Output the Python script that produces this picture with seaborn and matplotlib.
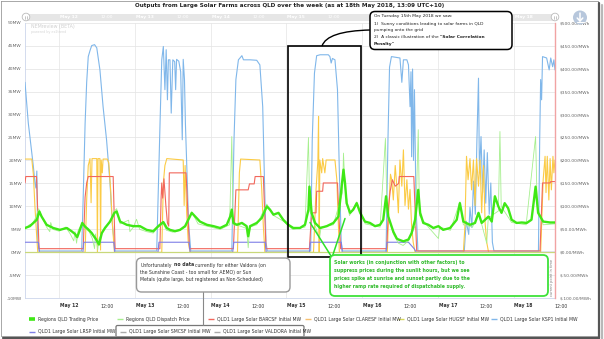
import matplotlib
matplotlib.use("Agg")
import numpy as np
import pandas as pd
import matplotlib.pyplot as plt
import matplotlib.dates as mdates
from matplotlib.patches import Rectangle, FancyBboxPatch, Circle, PathPatch
from matplotlib.path import Path
from matplotlib.transforms import blended_transform_factory, ScaledTranslation
import seaborn as sns

# ---------------------------------------------------------------------------
# Data: time stamps are hours after 2018-05-11 00:00 (UTC+10)
# ---------------------------------------------------------------------------
ksp1_hours = [
    13.15, 14.2, 14.7, 15.8, 16.3, 16.6, 16.9, 17.2, 17.7,
    31.1, 31.6, 32.2, 32.7, 33.2, 33.8, 34.3, 35.2, 35.9, 36.9, 37.9, 39.0, 40.1, 40.8, 41.7,
    54.9, 55.95, 56.5, 57.0, 57.5, 57.9, 58.3, 58.6, 59.1, 59.5, 60.0, 60.6, 60.9, 61.2, 61.9, 62.5, 63.0, 63.3, 63.7, 64.0, 64.5, 65.0, 65.7,
    78.7, 79.4, 80.0, 80.8, 81.3, 81.9, 82.4, 84.5, 86.6, 87.6, 88.5, 89.0, 89.55, 89.95,
    103.7, 104.2, 104.9, 105.6, 106.7, 109.3, 109.8, 110.2, 110.6, 111.4, 112.2, 112.8, 113.4, 113.8,
    127.6, 128.2, 128.7, 129.3, 132.0, 132.6, 133.1, 134.2, 134.7, 135.2, 135.5, 135.7, 136.0, 136.3, 136.6, 137.1, 137.7,
    152.4, 153.0, 153.8, 154.2, 154.8, 155.3, 155.9, 156.4, 156.9, 157.2, 157.7, 158.2, 158.7, 159.2, 159.7, 160.3, 160.8, 161.3, 161.8,
    175.9, 176.3, 176.6, 176.9, 177.2, 178.5, 179.3, 179.8, 180.4, 180.8, 181.15,
]
ksp1_mw = [
    37.0, 28.1, 25.2, 18.7, 15.1, 14.0, 17.7, 2.2, 0.3,
    0.3, 12.0, 28.0, 37.0, 42.6, 44.0, 45.0, 45.2, 44.5, 39.7, 31.7, 24.5, 15.1, 6.4, 0.3,
    0.3, 28.0, 41.9, 44.8, 35.4, 44.1, 33.2, 41.9, 41.9, 30.3, 41.9, 41.5, 35.4, 42.0, 41.6, 39.3, 24.5, 42.0, 37.6, 28.0, 17.3, 6.4, 0.3,
    0.3, 24.5, 37.6, 41.9, 42.3, 42.8, 41.9, 41.9, 41.8, 40.8, 31.7, 17.3, 2.2, 0.3,
    0.3, 24.5, 39.0, 42.8, 43.0, 43.0, 42.6, 41.2, 42.2, 41.9, 35.4, 17.3, 2.2, 0.3,
    0.3, 24.5, 40.3, 42.6, 42.3, 37.0, 41.9, 41.9, 40.8, 31.7, 39.3, 20.8, 39.9, 20.0, 35.4, 9.8, 0.3,
    0.3, 6.8, 3.9, 9.8, 5.4, 15.5, 8.3, 24.5, 37.9, 17.3, 25.2, 13.0, 22.3, 10.7, 21.7, 8.3, 15.1, 2.2, 0.3,
    0.3, 24.5, 37.6, 33.2, 42.6, 42.3, 39.7, 42.3, 40.4, 41.9, 39.7,
]

barcsf_hours = [
    13.15, 13.4, 16.8, 17.6,
    31.6, 32.2, 32.7, 33.2, 41.1, 41.7,
    55.9, 56.3, 56.5, 56.8, 57.2, 57.8, 58.3, 58.7, 58.9, 64.2, 65.3,
    79.2, 80.0, 83.9, 84.3, 85.8, 86.1, 88.7, 89.55,
    103.3, 104.0, 105.4, 105.6, 107.5, 107.7, 112.2, 112.6, 113.2,
    127.8, 128.4, 128.9, 129.6, 130.5, 131.6, 131.8, 136.4, 137.3,
    176.4, 177.2, 179.6, 179.8, 181.15,
]
barcsf_mw = [
    15.1, 16.5, 16.5, 0.8,
    0.8, 12.0, 15.1, 16.5, 16.5, 0.8,
    0.8, 12.0, 15.1, 11.8, 16.0, 10.2, 6.4, 5.7, 17.3, 17.3, 0.8,
    0.8, 13.6, 13.6, 14.9, 14.9, 16.5, 16.5, 0.8,
    0.8, 8.6, 8.6, 13.3, 13.3, 15.1, 15.1, 8.6, 0.8,
    0.8, 10.0, 13.3, 15.8, 14.4, 15.0, 16.5, 16.5, 0.3,
    0.3, 15.1, 15.1, 15.4, 15.4,
]

claresf_hours = [
    13.15, 15.3, 15.8, 16.3, 16.9, 17.2,
    32.2, 32.7, 33.2, 33.75, 34.1, 34.4, 35.9, 36.1, 36.3, 36.9, 37.1, 37.3, 37.65, 37.9, 39.2, 39.7, 40.3, 40.9, 41.5,
    56.5, 57.0, 57.5, 58.1, 63.3, 63.6, 63.9, 64.4, 64.9, 65.5,
    80.5, 81.1, 81.5, 87.6, 88.2, 88.7, 89.2,
    104.6, 105.4, 106.0, 106.2, 106.4, 106.6, 107.2, 107.5, 108.2, 108.6, 111.4, 112.0, 112.5, 112.8,
    128.0, 128.5, 129.0, 129.4, 129.9, 130.5, 131.0, 131.5, 132.0, 132.6, 133.1, 133.6, 134.2, 134.7, 135.2, 135.7, 136.2, 136.8,
    152.1, 152.6, 153.1, 153.6, 154.2, 154.7, 155.3, 155.8, 156.3, 156.9, 157.4, 157.9, 158.5, 159.0, 159.5, 160.1,
    176.6, 177.4, 178.0, 178.3, 178.7, 179.2, 179.6, 180.0, 180.5, 180.8, 181.15,
]
claresf_mw = [
    20.3, 20.3, 17.0, 10.0, 3.0, 0.0,
    0.0, 11.4, 18.9, 20.4, 10.8, 20.4, 20.4, 0.0, 20.4, 20.4, 0.5, 20.1, 17.3, 20.3, 20.3, 19.5, 13.6, 5.7, 0.0,
    0.0, 15.1, 18.9, 20.4, 20.1, 10.2, 18.9, 8.6, 2.2, 0.0,
    0.0, 17.3, 20.3, 20.1, 13.6, 5.7, 0.0,
    0.0, 13.6, 20.1, 29.6, 0.0, 20.1, 17.3, 20.4, 17.3, 20.1, 20.1, 15.8, 5.7, 0.0,
    0.0, 10.0, 17.0, 15.8, 11.4, 18.9, 14.4, 8.6, 20.1, 14.4, 22.3, 10.2, 15.8, 9.4, 13.7, 5.7, 2.2, 0.0,
    0.0, 5.7, 20.9, 15.8, 20.4, 13.6, 20.1, 10.2, 20.4, 14.4, 20.1, 8.6, 18.9, 6.4, 2.2, 0.0,
    0.0, 15.8, 20.9, 13.0, 20.9, 11.4, 20.4, 13.6, 20.9, 17.3, 20.1,
]

hugsf_hours = [13.15, 181.15]
hugsf_mw = [0.0, 0.0]

lrsp_hours = [13.15, 17.4, 17.7, 31.5, 31.8, 41.3, 41.6, 55.3, 55.6, 65.2, 65.5, 79.0, 79.3,
              89.3, 89.6, 103.3, 103.6, 113.4, 113.7, 127.6, 127.9, 134.7, 136.5, 137.2, 181.15]
lrsp_mw = [2.2, 2.2, 0.0, 0.0, 2.2, 2.2, 0.0, 0.0, 2.2, 2.2, 0.0, 0.0, 2.2,
           2.2, 0.0, 0.0, 2.2, 2.2, 0.0, 0.0, 2.2, 2.2, 0.8, 0.0, 0.0]

# SMCSF and VALDORA report nothing over the week
smcsf_hours, smcsf_mw = [], []
valdora_hours, valdora_mw = [], []

trading_hours = [
    13.15, 14.7, 15.8, 16.9, 17.7, 18.4, 20.0, 22.1, 24.2, 26.4, 27.9, 29.0, 29.7, 30.6, 31.3,
    32.2, 33.2, 34.3, 35.7, 36.6, 37.5, 38.5, 40.1, 41.5, 42.2, 43.3, 45.4, 47.5, 49.6, 51.7, 53.8, 55.4,
    57.0, 58.1, 59.1, 60.7, 62.3, 63.9, 64.9, 66.0, 67.1, 68.6, 70.8, 72.9, 75.0, 77.1, 78.2, 78.7, 79.2,
    80.3, 81.9, 83.4, 83.9, 84.5, 86.6, 88.2, 89.8, 90.8, 91.9, 93.5, 95.0, 96.6, 98.2, 100.3, 101.9, 103.0, 103.3, 104.0, 105.1,
    106.7, 108.8, 110.9, 112.5, 113.5, 114.1, 114.6, 115.1, 116.2, 117.2, 118.3, 119.4, 120.9, 122.5, 124.1, 125.7, 126.7, 127.6, 128.3, 129.9,
    131.0, 131.5, 133.1, 134.7, 135.7, 136.8, 137.8, 138.4, 139.4, 141.0, 142.6, 144.2, 145.7, 147.9,
    150.0, 151.0, 152.1, 154.2, 155.8, 156.9, 157.9, 159.0, 160.1, 161.1, 162.1, 163.2, 164.2, 165.2, 166.3, 167.4, 169.0, 170.6, 172.2, 173.7, 175.0, 175.8, 177.4, 179.6, 181.15,
]
trading_price = [
    53, 57, 64, 71, 89, 78, 60, 53, 49, 53, 46, 40, 33, 50, 64,
    56, 50, 42, 28, 17, 42, 53, 67, 86, 89, 67, 60, 57, 57, 49, 46, 57,
    66, 53, 49, 46, 49, 57, 71, 86, 78, 67, 60, 57, 53, 60, 78, 93, 64,
    60, 64, 57, 35, 57, 64, 75, 100, 93, 82, 86, 71, 60, 53, 53, 60, 93, 143, 86, 64,
    53, 57, 64, 78, 143, 180, 150, 107, 86, 93, 107, 86, 67, 64, 57, 60, 71, 122, 78, 45,
    30, 28, 24, 28, 42, 71, 136, 86, 64, 60, 53, 57, 49, 53,
    71, 107, 67, 60, 64, 86, 64, 71, 78, 67, 122, 100, 86, 107, 96, 71, 64, 65, 64, 71, 143, 86, 67, 65, 65,
]

dispatch_hours = [
    13.15, 14.5, 15.5, 16.5, 17.5, 18.3, 20.0, 21.0, 21.3, 22.0, 24.0, 26.0, 27.5, 28.6, 29.0, 29.5, 30.0, 31.2,
    32.2, 33.5, 34.5, 35.2, 35.5, 36.2, 36.6, 37.5, 38.5, 40.0, 41.5, 42.2, 43.3, 46.0, 46.4, 47.5, 48.5, 49.5, 51.7, 53.8, 55.4,
    57.0, 58.0, 60.0, 62.0, 64.0, 66.0, 68.0, 72.0, 75.0, 78.0, 78.7, 79.1,
    81.0, 83.4, 83.9, 84.4, 86.6, 89.8, 92.0, 95.0, 98.0, 101.9, 103.0, 103.4,
    105.0, 106.5, 107.0, 110.9, 113.8, 114.1, 114.6, 116.0, 118.3, 121.0, 125.7, 127.4, 127.9,
    129.9, 131.5, 133.0, 134.7, 137.0, 137.8, 138.2, 141.0, 144.2, 144.6, 148.0,
    151.0, 152.1, 155.0, 157.0, 159.5, 160.0, 163.2, 163.7, 164.1, 167.4, 172.0, 175.0, 175.5, 177.4, 181.15,
]
dispatch_price = [
    50, 60, 62, 75, 95, 80, 55, 45, 65, 50, 46, 55, 40, 25, 45, 20, 48, 62,
    52, 45, 30, 8, 40, 5, 30, 40, 55, 65, 90, 95, 62, 70, 45, 55, 72, 50, 45, 42, 55,
    62, 48, 44, 47, 55, 88, 62, 55, 50, 60, 252, 60,
    58, 52, 10, 55, 60, 105, 80, 68, 50, 55, 250, 90,
    60, 30, 55, 60, 130, 216, 140, 80, 110, 62, 55, 248, 90,
    40, 20, 15, 25, 60, 267, 80, 55, 30, 55, 48,
    110, 60, 55, 85, 20, 75, 90, 263, 100, 65, 60, 252, 100, 60, 62,
]

x_tick_hours = [24, 36, 48, 60, 72, 84, 96, 108, 120, 132, 144, 156, 168, 180]
x_tick_labels = ["May 12", "12:00", "May 13", "12:00", "May 14", "12:00", "May 15",
                 "12:00", "May 16", "12:00", "May 17", "12:00", "May 18", "12:00"]
midnight_hours = [24, 48, 72, 96, 120, 144, 168]
mw_ticks = list(range(-10, 55, 5))
price_ticks = list(range(-100, 550, 50))

# ---------------------------------------------------------------------------
sns.set_style("white")
plt.rcParams["font.family"] = ["DejaVu Sans"]

W, H, DPI = 604, 339, 100
fig = plt.figure(figsize=(W / DPI, H / DPI), dpi=DPI)
fig.patch.set_facecolor("white")

PL, PR, PT, PB = 25, 555, 22.6, 298.3
ax = fig.add_axes([PL / W, 1 - PB / H, (PR - PL) / W, (PB - PT) / H])
ax2 = ax.twinx()

origin = pd.Timestamp("2018-05-11 00:00")


def at(hours):
    return origin + pd.to_timedelta(np.asarray(hours, dtype=float), unit="h")


def draw(axis, hours, values, color, lw, z, alpha=1.0):
    if len(hours) == 0:
        return
    frame = pd.DataFrame({"time": at(hours), "value": values})
    sns.lineplot(data=frame, x="time", y="value", ax=axis, color=color,
                 linewidth=lw, zorder=z, alpha=alpha, estimator=None,
                 sort=False, legend=False)


C_TRADE = "#3fe816"
C_DISP = "#a6ef8e"
C_BARC = "#f2675c"
C_CLARE = "#fbcb45"
C_HUG = "#c9d87a"
C_KSP = "#80b7ea"
C_LRSP = "#7f7fe6"
C_GREY = "#aaaaaa"

# generation (MW, left axis)
draw(ax, ksp1_hours, ksp1_mw, C_KSP, 0.8, 3)
draw(ax, claresf_hours, claresf_mw, C_CLARE, 0.8, 4)
draw(ax, barcsf_hours, barcsf_mw, C_BARC, 0.8, 5)
draw(ax, lrsp_hours, lrsp_mw, C_LRSP, 0.8, 6)
draw(ax, smcsf_hours, smcsf_mw, C_GREY, 0.8, 6)
draw(ax, valdora_hours, valdora_mw, C_GREY, 0.8, 6)
draw(ax, hugsf_hours, hugsf_mw, C_HUG, 0.9, 7)

# prices ($/MWh, right axis)
draw(ax2, dispatch_hours, dispatch_price, C_DISP, 0.6, 2)
draw(ax2, trading_hours, trading_price, C_TRADE, 1.7, 3)

t0, t1 = at([13.15])[0], at([181.15])[0]
for a in (ax, ax2):
    a.set_xlim(t0, t1)
    a.set_xlabel("")
    a.set_ylabel("")
ax.set_ylim(-10, 50)
ax2.set_ylim(-100, 500)

ax.set_yticks(mw_ticks)
ax.set_yticklabels([f"{v}MW" for v in mw_ticks])
ax2.set_yticks(price_ticks)
ax2.set_yticklabels([f"\\${v:.2f}/MWh" for v in price_ticks])
ax.set_xticks(at(x_tick_hours))
ax.set_xticklabels([])

ax.tick_params(axis="y", length=0, pad=2.3, labelsize=3.2, labelcolor="#666666")
ax2.tick_params(axis="y", length=0, pad=3.0, labelsize=3.2, labelcolor="#666666")
ax.tick_params(axis="x", length=0)

ax.grid(axis="y", color="#e6e6e6", linewidth=0.6)
ax.grid(axis="x", visible=False)
ax.set_axisbelow(True)
for h in midnight_hours:
    ax.axvline(at([h])[0], color="#e9e9e9", linewidth=0.6, zorder=0)

for s in ("top", "right"):
    ax.spines[s].set_visible(False)
for s in ("left", "bottom"):
    ax.spines[s].set_color("#ccd6eb")
    ax.spines[s].set_linewidth(0.6)
for s in ("left", "top", "bottom"):
    ax2.spines[s].set_visible(False)
ax2.spines["right"].set_color("#f1a3a3")
ax2.spines["right"].set_linewidth(1.0)

# ---------------------------------------------------------------------------
# Overlay in pixel coordinates for annotations, legend and chrome
# ---------------------------------------------------------------------------
overlay = fig.add_axes([0, 0, 1, 1], zorder=10)
overlay.set_xlim(0, W)
overlay.set_ylim(H, 0)
overlay.axis("off")
renderer = fig.canvas.get_renderer()

# date labels: below the plot and in the navigator band, set just right of each tick
shift = ScaledTranslation(10 / DPI, 0, fig.dpi_scale_trans)
date_tf = blended_transform_factory(ax.transData, overlay.transData) + shift
CALLOUT_X0, CALLOUT_X1 = 370, 512
for h, lab in zip(x_tick_hours, x_tick_labels):
    xnum = mdates.date2num(at([h])[0].to_pydatetime())
    weight = "bold" if lab.startswith("May") else "normal"
    overlay.text(xnum, 306, lab, transform=date_tf, ha="center", va="center",
                 fontsize=3.3, color="#333333", fontweight=weight)
    xpix = PL + (h - 13.15) * (PR - PL) / 168 + 10
    if CALLOUT_X0 - 8 < xpix < CALLOUT_X1 + 8:
        continue
    overlay.text(xnum, 17.2, lab, transform=date_tf, ha="center", va="center",
                 fontsize=3.2, color="white", fontweight=weight, zorder=1.5)

# title
overlay.text(290, 5.8, "Outputs from Large Solar Farms across QLD over the week "
             "(as at 18th May 2018, 13:09 UTC+10)", ha="center", va="center",
             fontsize=4.05, fontweight="bold", color="#222222")

# navigator band above the plot
overlay.add_patch(Rectangle((PL, 13.5), PR - PL, 7, facecolor="#e6e6e6",
                            edgecolor="none", zorder=1))
for cx in (PL + 1, PR):
    overlay.add_patch(Circle((cx, 17), 3.8, facecolor="white", edgecolor="#bbbbbb",
                             linewidth=0.6, zorder=2))
    overlay.plot([cx - 0.7, cx - 0.7], [15.5, 18.5], color="#999999", lw=0.4, zorder=2.5)
    overlay.plot([cx + 0.7, cx + 0.7], [15.5, 18.5], color="#999999", lw=0.4, zorder=2.5)

# export button
overlay.add_patch(Circle((580, 17.5), 7, facecolor="#b7c7dc", edgecolor="none"))
overlay.plot([580, 580], [13.0, 20.5], color="white", lw=1.1, solid_capstyle="round")
overlay.plot([577.2, 580, 582.8], [18.0, 21.0, 18.0], color="white", lw=1.1,
             solid_capstyle="round")
overlay.plot([576.5, 583.5], [22.3, 22.3], color="white", lw=0.8)

# watermark
overlay.text(31, 26.5, "NEMreview (BETA)", fontsize=3.4, color="#d0d0d0",
             ha="left", va="center")
overlay.text(31, 32, "powered by ez2trend", fontsize=2.4, color="#d6d6d6",
             ha="left", va="center")

# current time marker label
overlay.text(551.5, 278, "current point in time", rotation=90, fontsize=2.5,
             color="#777777", ha="center", va="center")


def rich_line(x, y, parts, size, color):
    """Write a line made of regular and bold runs, measured one after another."""
    cx = x
    for text, bold in parts:
        weight = "bold" if bold else "normal"
        if text.startswith(" "):
            cx += size * (0.35 if bold else 0.32) * DPI / 72
            text = text.lstrip(" ")
        t = overlay.text(cx, y, text, fontsize=size, fontweight=weight,
                         color=color, ha="left", va="baseline", zorder=6)
        cx += t.get_window_extent(renderer=renderer).width


# highlight around Tuesday 15th
overlay.add_patch(Rectangle((288.3, 46), 72.4, 211.3, facecolor="none",
                            edgecolor="black", linewidth=1.2, zorder=4))

# callout: Tuesday observations
overlay.add_patch(FancyBboxPatch((CALLOUT_X0, 11.5), CALLOUT_X1 - CALLOUT_X0, 38,
                                 boxstyle="round,pad=0,rounding_size=5",
                                 facecolor="white", edgecolor="black", linewidth=1.1, zorder=5))
conn = Path([(370, 30), (327, 31), (322, 46)], [Path.MOVETO, Path.CURVE3, Path.CURVE3])
overlay.add_patch(PathPatch(conn, facecolor="none", edgecolor="black", linewidth=1.0, zorder=4))
rich_line(374, 17.5, [("On Tuesday 15th May 2018 we saw:", False)], 3.2, "#222222")
rich_line(374, 24.5, [("1)  Sunny conditions leading to solar farms in QLD", False)], 3.2, "#222222")
rich_line(374, 31.3, [("pumping onto the grid", False)], 3.2, "#222222")
rich_line(374, 38.3, [("2)  A classic illustration of the", False),
                      (" \"Solar Correlation", True)], 3.2, "#222222")
rich_line(374, 45.0, [("Penalty\"", True)], 3.2, "#222222")

# callout: missing data
overlay.add_patch(FancyBboxPatch((136.5, 258), 153.5, 34, boxstyle="round,pad=0,rounding_size=5",
                                 facecolor="white", edgecolor="#999999", linewidth=1.0, zorder=5))
rich_line(140.5, 266.5, [("Unfortunately", False), (" no data", True),
                         (" currently for either Valdora (on", False)], 3.3, "#333333")
rich_line(140.5, 274.0, [("the Sunshine Coast - too small for AEMO) or Sun", False)], 3.3, "#333333")
rich_line(140.5, 281.5, [("Metals (quite large, but registered as Non-Scheduled)", False)], 3.3, "#333333")
overlay.plot([203, 203], [292, 325], color="#888888", lw=0.8)

# callout: price spikes
GREEN_TXT = "#2fba2a"
overlay.add_patch(FancyBboxPatch((330, 255), 218, 41, boxstyle="round,pad=0,rounding_size=5",
                                 facecolor="white", edgecolor="#3ee23a", linewidth=1.3, zorder=5))
overlay.plot([310, 332], [222.5, 257.5], color="#2ee02a", lw=1.1, zorder=4)
overlay.plot([345, 332], [218.5, 257.5], color="#2ee02a", lw=1.1, zorder=4)
for i, line in enumerate([
        "Solar works (in conjunction with other factors) to",
        "suppress prices during the sunlit hours, but we see",
        "prices spike at sunrise and sunset partly due to the",
        "higher ramp rate required of dispatchable supply."]):
    overlay.text(334, 264 + 8 * i, line, fontsize=3.3, fontweight="bold",
                 color=GREEN_TXT, ha="left", va="baseline", zorder=6)

# legend
legend_rows = [
    (319, [(29, "Regions QLD Trading Price", C_TRADE, 2.6),
           (117, "Regions QLD Dispatch Price", C_DISP, 1.0),
           (208, "QLD1 Large Solar BARCSF Initial MW", C_BARC, 1.0),
           (305, "QLD1 Large Solar CLARESF Initial MW", "#f7c070", 1.0),
           (398, "QLD1 Large Solar HUGSF Initial MW", "#d8d85a", 1.0),
           (491, "QLD1 Large Solar KSP1 Initial MW", C_KSP, 1.0)]),
    (332, [(29, "QLD1 Large Solar LRSP Initial MW", C_LRSP, 1.0),
           (120, "QLD1 Large Solar SMCSF Initial MW", C_GREY, 1.0),
           (214, "QLD1 Large Solar VALDORA Initial MW", C_GREY, 1.0)]),
]
for y, entries in legend_rows:
    for x, label, color, lw in entries:
        overlay.plot([x, x + 6], [y, y], color=color, lw=lw, solid_capstyle="butt")
        overlay.text(x + 9, y, label, fontsize=3.3, color="#333333",
                     ha="left", va="center")
overlay.add_patch(FancyBboxPatch((116, 325.5), 188, 11.5, boxstyle="round,pad=0,rounding_size=1.5",
                                 facecolor="none", edgecolor="#777777", linewidth=0.9))

# picture frame with drop shadow
overlay.plot([0.5, 597.5, 597.5, 0.5, 0.5], [0.5, 0.5, 336, 336, 0.5],
             color="#9a9a9a", lw=0.6)
overlay.plot([599.2, 599.2], [3, 337.8], color="#555555", lw=1.6)
overlay.plot([3, 599.2], [337.8, 337.8], color="#555555", lw=1.6)
overlay.plot([601.5, 601.5], [5, 339], color="#b8b8b8", lw=1.6)

fig.savefig("out.png", dpi=DPI, facecolor="white")
